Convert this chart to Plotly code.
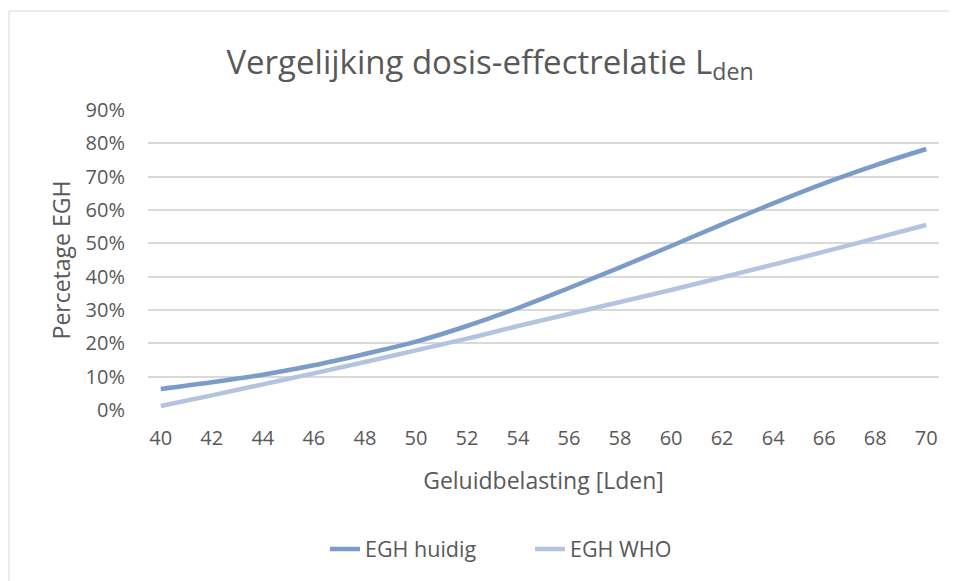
import plotly.graph_objects as go

lden = [40, 42, 44, 46, 48, 50, 52, 54, 56, 58, 60, 62, 64, 66, 68, 70]
egh_huidig = [0.063, 0.083, 0.106, 0.134, 0.168, 0.205, 0.252, 0.306, 0.366, 0.428, 0.492, 0.557, 0.620, 0.680, 0.734, 0.783]
egh_who = [0.012, 0.044, 0.077, 0.110, 0.144, 0.179, 0.214, 0.252, 0.288, 0.324, 0.360, 0.398, 0.436, 0.475, 0.515, 0.555]
y_ticks = [0, 0.1, 0.2, 0.3, 0.4, 0.5, 0.6, 0.7, 0.8, 0.9]

FONT = "Open Sans"
GREY = "#595959"

fig = go.Figure()
fig.add_trace(go.Scatter(x=lden, y=egh_huidig, mode="lines", name="EGH huidig",
                         line=dict(color="#7b9bc8", width=4.5, shape="spline")))
fig.add_trace(go.Scatter(x=lden, y=egh_who, mode="lines", name="EGH WHO",
                         line=dict(color="#b4c4e0", width=4.5, shape="spline")))

# page offset (body margin) of 8px
OFF = 8
W, H = 957, 581
L = 148 - OFF
T = 110 - OFF
R = W - (939 - OFF)
B = H - (410 - OFF)
pw = W - L - R
ph = H - T - B

def px(x):
    return (x - OFF - L) / pw

def py(y):
    return (H - B - (y - OFF)) / ph

fig.add_shape(type="rect", xref="paper", yref="paper",
              x0=px(9), x1=px(990), y0=py(620), y1=py(11),
              line=dict(color="#d9d9d9", width=1), fillcolor="rgba(0,0,0,0)", layer="below")

fig.update_layout(
    width=W, height=H,
    margin=dict(l=L, r=R, t=T, b=B),
    paper_bgcolor="white", plot_bgcolor="white",
    font=dict(family=FONT, color=GREY, size=20),
    title=dict(text="Vergelijking dosis-effectrelatie L<sub>den</sub>",
               x=(490 - OFF) / W, xanchor="center", y=1 - (62 - OFF) / H, yanchor="middle",
               font=dict(family=FONT, size=33, color=GREY)),
    showlegend=True,
    legend=dict(orientation="h", x=px(530), xanchor="center", y=py(549), yanchor="middle",
                entrywidth=160, entrywidthmode="pixels",
                font=dict(size=21.5, color=GREY), bgcolor="rgba(0,0,0,0)"),
    xaxis=dict(range=[39.5, 70.5], tickvals=lden, ticktext=[str(v) for v in lden],
               showgrid=False, zeroline=False, showline=False, ticks="",
               ticklabelstandoff=14,
               title=dict(text="Geluidbelasting [Lden]", standoff=22, font=dict(size=23, color=GREY))),
    yaxis=dict(range=[0, 0.9], tickvals=y_ticks, tickformat=".0%",
               showgrid=True, gridcolor="#d9d9d9", gridwidth=1.5, zeroline=False,
               showline=False, ticks="", ticklabelstandoff=22,
               title=dict(text="Percetage EGH", standoff=8, font=dict(size=23, color=GREY))),
)

fig.write_html("out.html")
